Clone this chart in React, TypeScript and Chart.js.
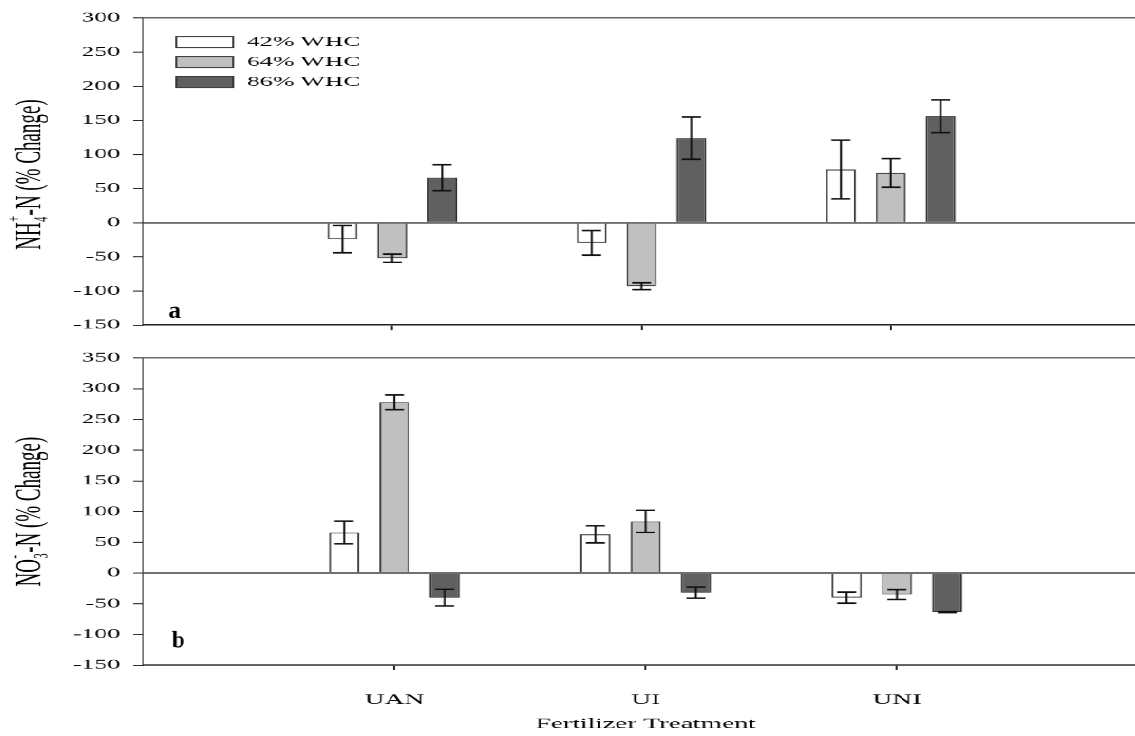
import React, { useEffect, useRef } from 'react';
import { Chart, registerables } from 'chart.js';

Chart.register(...registerables);

// The reference figure is a horizontally stretched rendering; reproduce it
// by drawing at natural width and stretching the canvases with CSS.
const STRETCH = 1.9;
const FONT = "'Liberation Serif', 'Times New Roman', 'DejaVu Serif', serif";

const categories = ['', 'UAN', 'UI', 'UNI', ''];
const seriesLabels = ['42% WHC', '64% WHC', '86% WHC'];
const seriesFill = ['#ffffff', '#c0c0c0', '#606060'];
const seriesBorder = ['#3c3c3c', '#3c3c3c', '#2c2c2c'];

// Panel a : NH4+-N (% change)
const nh4_42 = [null, -24, -29.5, 78, null];
const nh4_64 = [null, -52, -93, 73, null];
const nh4_86 = [null, 66, 124, 156, null];
const nh4Err42 = [null, 20, 18, 43, null];
const nh4Err64 = [null, 6, 5, 21, null];
const nh4Err86 = [null, 19, 31, 24, null];
const nh4Axis = [-150, 300, 50];

// Panel b : NO3--N (% change)
const no3_42 = [null, 66, 63, -40, null];
const no3_64 = [null, 278, 84, -35, null];
const no3_86 = [null, -40, -32, -63.5, null];
const no3Err42 = [null, 18.5, 14, 9, null];
const no3Err64 = [null, 12, 18, 8, null];
const no3Err86 = [null, 13.5, 9, 1, null];
const no3Axis = [-150, 350, 50];

const xTitle = 'Fertilizer Treatment';

type PanelSpec = {
  values: (number | null)[][];
  errors: (number | null)[][];
  axis: number[];
  title: [string, string, string, string];
  titleDy: number;
  letter: string;
  letterX: number;
  letterBaseline: number;
  legend: boolean;
  showX: boolean;
  width: number;
  height: number;
  xAxisHeight: number;
};

const panelA: PanelSpec = {
  values: [nh4_42, nh4_64, nh4_86],
  errors: [nh4Err42, nh4Err64, nh4Err86],
  axis: nh4Axis,
  title: ['NH', '4', '+', '-N (% Change)'],
  titleDy: 3,
  letter: 'a',
  letterX: 168.5,
  letterBaseline: 318,
  legend: true,
  showX: false,
  width: 600,
  height: 340,
  xAxisHeight: 12,
};

const panelB: PanelSpec = {
  values: [no3_42, no3_64, no3_86],
  errors: [no3Err42, no3Err64, no3Err86],
  axis: no3Axis,
  title: ['NO', '3', '-', '-N (% Change)'],
  titleDy: 0,
  letter: 'b',
  letterX: 171.5,
  letterBaseline: 307.5,
  legend: false,
  showX: true,
  width: 604,
  height: 396,
  xAxisHeight: 71,
};

function makeOverlay(spec: PanelSpec) {
  return {
    id: 'overlay',
    afterDatasetsDraw(chart: any) {
      const ctx = chart.ctx;
      const ys = chart.scales.y;
      ctx.save();
      ctx.strokeStyle = '#111';
      chart.data.datasets.forEach((ds: any, i: number) => {
        const meta = chart.getDatasetMeta(i);
        meta.data.forEach((el: any, j: number) => {
          const v = ds.data[j];
          const e = spec.errors[i][j];
          if (v == null || e == null) return;
          const x = el.x;
          const yt = ys.getPixelForValue(v + e);
          const yb = ys.getPixelForValue(v - e);
          ctx.lineWidth = 1.05;
          ctx.beginPath();
          ctx.moveTo(x, yt);
          ctx.lineTo(x, yb);
          ctx.stroke();
          ctx.lineWidth = 1.6;
          ctx.beginPath();
          ctx.moveTo(x - 5, yt);
          ctx.lineTo(x + 5, yt);
          ctx.moveTo(x - 5, yb);
          ctx.lineTo(x + 5, yb);
          ctx.stroke();
        });
      });
      ctx.restore();
    },
    afterDraw(chart: any) {
      const ctx = chart.ctx;
      const area = chart.chartArea;
      ctx.save();
      // legend
      if (spec.legend) {
        chart.data.datasets.forEach((ds: any, k: number) => {
          const bx = 176 / STRETCH;
          const by = 36 + k * 20;
          ctx.fillStyle = ds.backgroundColor;
          ctx.fillRect(bx, by, 30, 11);
          ctx.strokeStyle = '#333';
          ctx.lineWidth = 1;
          ctx.strokeRect(bx, by + 0.5, 30, 11);
          ctx.fillStyle = '#000';
          ctx.font = `13.5px ${FONT}`;
          ctx.textBaseline = 'middle';
          ctx.textAlign = 'left';
          ctx.fillText(ds.label, 247 / STRETCH, by + 6.5);
        });
      }
      // panel letter (not stretched in the reference)
      ctx.save();
      ctx.translate(spec.letterX / STRETCH, spec.letterBaseline);
      ctx.scale(1 / STRETCH, 1);
      ctx.fillStyle = '#000';
      ctx.font = `bold 24px ${FONT}`;
      ctx.textBaseline = 'alphabetic';
      ctx.textAlign = 'left';
      ctx.fillText(spec.letter, 0, 0);
      ctx.restore();
      // y-axis title with subscript & superscript
      const [base, sub, sup, rest] = spec.title;
      const f = 19;
      const fs = f * 0.55;
      ctx.translate(28 / STRETCH, (area.top + area.bottom) / 2 + spec.titleDy);
      ctx.rotate(-Math.PI / 2);
      ctx.fillStyle = '#000';
      ctx.textBaseline = 'alphabetic';
      ctx.textAlign = 'left';
      ctx.font = `${f}px ${FONT}`;
      const wBase = ctx.measureText(base).width;
      const wRest = ctx.measureText(rest).width;
      ctx.font = `${fs}px ${FONT}`;
      const wSmall = Math.max(ctx.measureText(sub).width, ctx.measureText(sup).width) + 1;
      const total = wBase + wSmall + wRest;
      let x = -total / 2;
      const baseY = f * 0.33;
      ctx.font = `${f}px ${FONT}`;
      ctx.fillText(base, x, baseY);
      x += wBase;
      ctx.font = `${fs}px ${FONT}`;
      ctx.fillText(sub, x + 0.5, baseY + f * 0.2);
      ctx.fillText(sup, x + 0.5, baseY - f * 0.55);
      x += wSmall;
      ctx.font = `${f}px ${FONT}`;
      ctx.fillText(rest, x, baseY);
      ctx.restore();
    },
  };
}

function buildConfig(spec: PanelSpec): any {
  const [yMin, yMax, yStep] = spec.axis;
  return {
    type: 'bar',
    data: {
      labels: categories,
      datasets: spec.values.map((vals, i) => ({
        label: seriesLabels[i],
        data: vals,
        backgroundColor: seriesFill[i],
        borderColor: seriesBorder[i],
        borderWidth: 1,
        categoryPercentage: 0.6,
        barPercentage: 0.6,
      })),
    },
    options: {
      responsive: false,
      animation: false,
      devicePixelRatio: STRETCH,
      events: [],
      layout: { padding: { top: 18, left: 0, right: 0, bottom: 0 } },
      plugins: {
        legend: { display: false },
        tooltip: { enabled: false },
        title: { display: false },
      },
      scales: {
        x: {
          type: 'category',
          offset: false,
          grid: {
            offset: false,
            drawOnChartArea: false,
            drawTicks: true,
            tickLength: 5,
            tickWidth: 1,
            tickColor: (c: any) =>
              c.index === 0 || c.index === categories.length - 1 ? 'rgba(0,0,0,0)' : '#222',
          },
          border: { display: true, color: '#222', width: 1.3 },
          ticks: {
            display: spec.showX,
            autoSkip: false,
            maxRotation: 0,
            color: '#000',
            padding: 0,
            font: { family: FONT, size: 14.5, lineHeight: '60px' },
          },
          title: {
            display: spec.showX,
            text: xTitle,
            color: '#000',
            font: { family: FONT, size: 14.5 },
            padding: { top: 0, bottom: 3 },
          },
          afterFit: (s: any) => {
            s.height = spec.xAxisHeight;
          },
        },
        y: {
          min: yMin,
          max: yMax,
          ticks: {
            stepSize: yStep,
            color: '#000',
            padding: 6.8,
            font: { family: FONT, size: 13.5 },
          },
          grid: {
            drawTicks: true,
            tickLength: 5.3,
            tickWidth: 1,
            tickColor: '#222',
            color: (c: any) =>
              c.tick && c.tick.value === 0
                ? '#707070'
                : c.tick && c.tick.value === yMax
                ? '#333'
                : 'rgba(0,0,0,0)',
            lineWidth: (c: any) => (c.tick && c.tick.value === 0 ? 1.6 : 1),
          },
          border: { display: true, color: '#222', width: 1 },
          afterFit: (s: any) => {
            s.width = 143 / STRETCH;
          },
        },
      },
    },
    plugins: [makeOverlay(spec)],
  };
}

function Panel({ spec }: { spec: PanelSpec }) {
  const ref = useRef<HTMLCanvasElement | null>(null);
  useEffect(() => {
    if (!ref.current) return;
    const chart = new Chart(ref.current, buildConfig(spec));
    return () => chart.destroy();
  }, [spec]);
  return <canvas ref={ref} width={spec.width} height={spec.height} style={{ display: 'block' }} />;
}

export default function App() {
  return (
    <div
      style={{
        position: 'absolute',
        left: 0,
        top: 0,
        width: 1135,
        height: 736,
        overflow: 'hidden',
        background: '#fff',
      }}
    >
      <div style={{ width: 640, transform: `scaleX(${STRETCH})`, transformOrigin: '0 0' }}>
        <Panel spec={panelA} />
        <Panel spec={panelB} />
      </div>
    </div>
  );
}
